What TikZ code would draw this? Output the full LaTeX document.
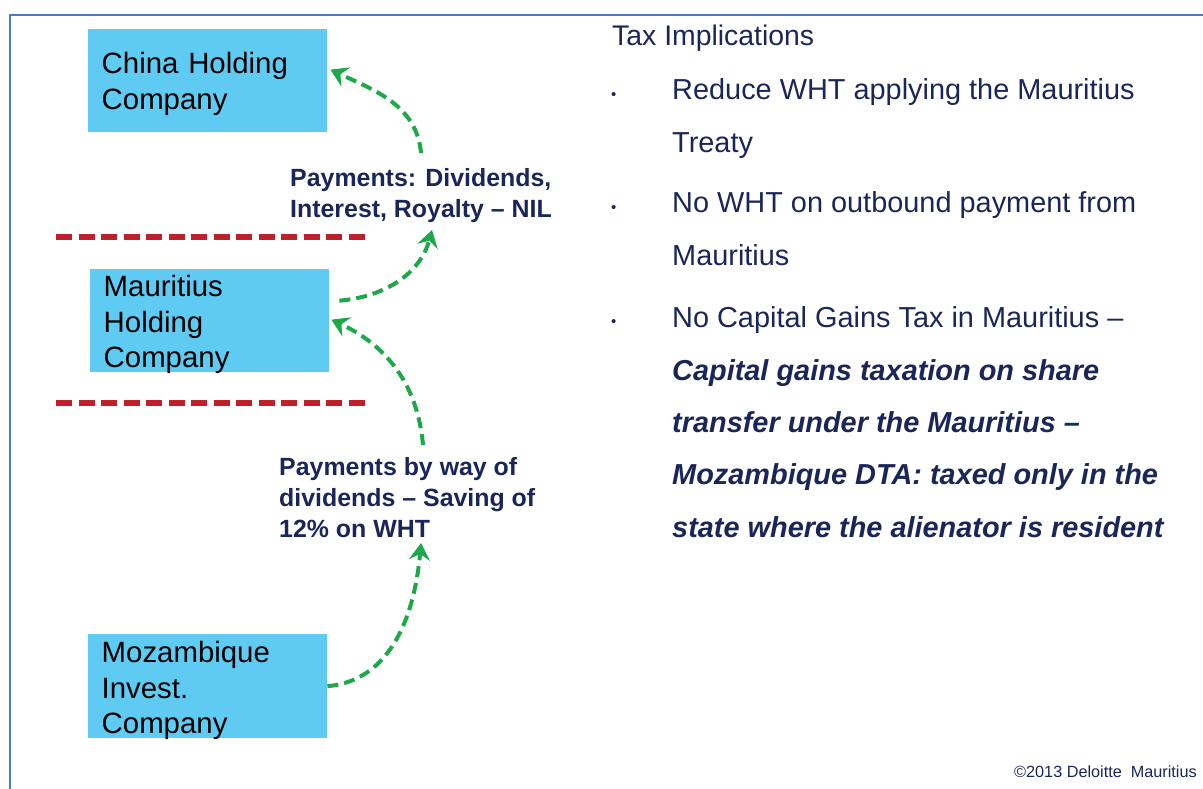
\documentclass[tikz,border=0pt]{standalone}
\usepackage{fontspec}
\setmainfont{Liberation Sans}
\usetikzlibrary{arrows.meta}

\definecolor{boxblue}{HTML}{5FCBF3}
\definecolor{framblue}{HTML}{4A78D4}
\definecolor{bordred}{HTML}{C0202A}
\definecolor{paygreen}{HTML}{1FA84A}
\definecolor{navy}{HTML}{1B2658}

\tikzset{
  company/.style={fill=boxblue, anchor=north west, minimum width=239bp, inner ysep=0pt,
    text width=212bp, inner xsep=13bp, align=left, font=\fontsize{29.5}{36}\selectfont},
  payment/.style={anchor=base west, inner sep=0pt, align=left, text=navy,
    font=\bfseries\fontsize{25}{31}\selectfont},
  note/.style={anchor=base west, inner sep=0pt, align=left, text=navy,
    font=\fontsize{29}{52.5}\selectfont},
  bullet/.style={anchor=base west, inner sep=0pt, text=navy, font=\fontsize{15}{15}\selectfont},
  border/.style={bordred, line width=5.5bp, dash pattern=on 16bp off 6.5bp},
  pay/.style={paygreen, line width=4bp, dash pattern=on 11bp off 6bp,
    -{Stealth[length=17bp,width=21bp,inset=6bp]}}
}
\newcommand{\cgt}[1]{{\bfseries\itshape #1}}

\begin{document}
\begin{tikzpicture}[x=1bp,y=-1bp]
    \useasboundingbox (0,0) rectangle (1203,789);
    \draw[framblue, line width=2bp] (10,789) -- (10,15) -- (1203,15);

    % companies
    \node[company, text height=44bp, text depth=59bp] (china) at (88,29) {China Holding\\Company};
    \node[company, text height=27bp, text depth=76bp] (mauritius) at (90,269) {Mauritius\\Holding\\Company};
    \node[company, text height=28bp, text depth=76bp] (mozambique) at (88,634) {Mozambique\\Invest.\\Company};

    % jurisdiction borders
    \draw[border] (56,237) -- (369,237);
    \draw[border] (56,403) -- (369,403);

    % payment labels (anchored at last line)
    \node[payment] (divA) at (290,217) {Payments: Dividends,\\Interest, Royalty – NIL};
    \node[payment] (divB) at (279,537) {Payments by way of\\dividends – Saving of\\12\% on WHT};

    \coordinate (a1) at (421,153);
    \coordinate (a2) at (432,230);
    \coordinate (a3) at (423,445);
    \coordinate (a4) at (421,543);

    \draw[pay] (a1) to[out=95,in=-25] ([xshift=3bp,yshift=11bp]china.east);
    \draw[pay] ([xshift=10bp,yshift=20bp]mauritius.east) to[out=5,in=-105] (a2);
    \draw[pay] (a3) to[out=95,in=-25] ([xshift=2bp,yshift=1bp]mauritius.east);
    \draw[pay] (mozambique.east) to[out=5,in=-95] (a4);

    % tax implications
    \node[note, font=\fontsize{28.5}{34}\selectfont] (head) at (612,46) {Tax Implications};
    \node[bullet] (b1) at (611,100) {•};
    \node[bullet] (b2) at (611,212) {•};
    \node[bullet] (b3) at (611,326) {•};
    \node[note] (t1) at (672,152) {Reduce WHT applying the Mauritius\\Treaty};
    \node[note] (t2) at (672,265) {No WHT on outbound payment from\\Mauritius};
    \node[note] (t3) at (672,537) {No Capital Gains Tax in Mauritius –\\
      \cgt{Capital gains taxation on share}\\
      \cgt{transfer under the Mauritius –}\\
      \cgt{Mozambique DTA: taxed only in the}\\
      \cgt{state where the alienator is resident}};

    \node[anchor=base west, inner sep=0pt, text=navy, font=\fontsize{16.3}{20}\selectfont] (copy) at (1014,777) {©2013 Deloitte\ \ Mauritius};
\end{tikzpicture}
\end{document}
